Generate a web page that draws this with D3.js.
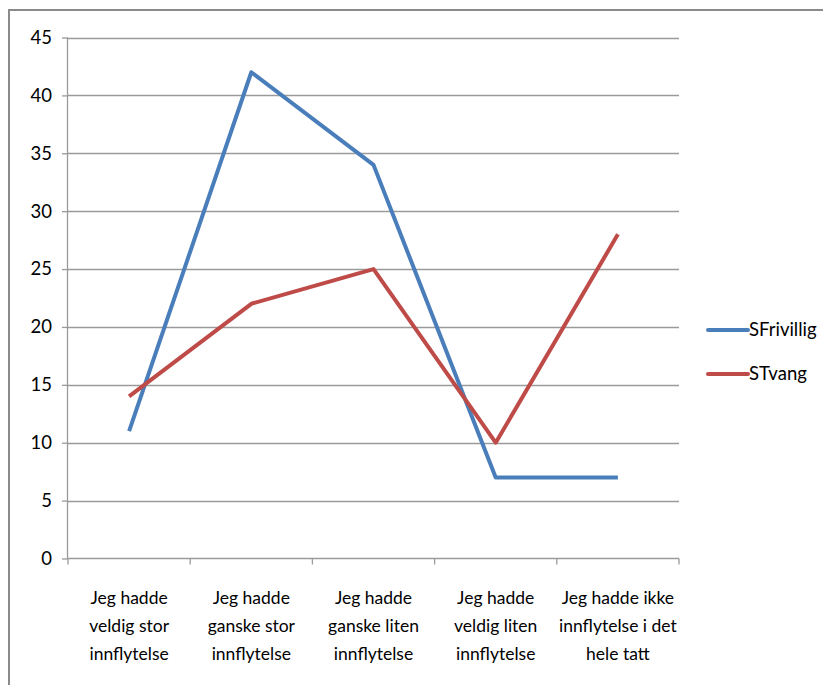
<!DOCTYPE html>
<html>
<head>
<meta charset="utf-8">
<script src="https://cdn.jsdelivr.net/npm/d3@7"></script>
<style>
  html, body { margin: 0; padding: 0; background: #fff; }
  svg { display: block; }
  text { font-family: Lato, "Open Sans", sans-serif; fill: #000; }
</style>
</head>
<body>
<svg id="chart" width="823" height="685"></svg>
<script>
const categories = [
  ["Jeg hadde", "veldig stor", "innflytelse"],
  ["Jeg hadde", "ganske stor", "innflytelse"],
  ["Jeg hadde", "ganske liten", "innflytelse"],
  ["Jeg hadde", "veldig liten", "innflytelse"],
  ["Jeg hadde ikke", "innflytelse i det", "hele tatt"]
];
const seriesNames = ["SFrivillig", "STvang"];
const sFrivillig = [11, 42, 34, 7, 7];
const sTvang = [14, 22, 25, 10, 28];
const yTicks = [0, 5, 10, 15, 20, 25, 30, 35, 40, 45];
const colors = ["#4A7EBB", "#BE4B48"];

(function () {
const svg = d3.select("#chart");

// outer chart border
svg.append("path")
  .attr("d", "M9,685 L9,10 L823,10")
  .attr("fill", "none")
  .attr("stroke", "#8a8a8a")
  .attr("stroke-width", 2);

const pLeft = 68, pRight = 679, pTop = 37.5, pBottom = 558.5;
const idx = d3.range(categories.length);
const x = d3.scaleBand().domain(idx).range([pLeft, pRight]).padding(0);
const y = d3.scaleLinear().domain([0, 45]).range([pBottom, pTop]);

// gridlines
svg.append("g").selectAll("line").data(yTicks.filter(d => d > 0)).join("line")
  .attr("x1", pLeft).attr("x2", pRight)
  .attr("y1", d => Math.round(y(d)) + 0.5).attr("y2", d => Math.round(y(d)) + 0.5)
  .attr("stroke", "#9a9a9a").attr("stroke-width", 1.3);

// y axis
const yAxis = svg.append("g").attr("transform", `translate(${pLeft},0)`)
  .call(d3.axisLeft(y).tickValues(yTicks).tickSize(6).tickPadding(10).tickFormat(d3.format("d")));
yAxis.select(".domain").attr("stroke", "#9a9a9a").attr("stroke-width", 1.3)
  .attr("d", `M-0.5,${pTop}V${pBottom}`);
yAxis.selectAll(".tick line").attr("stroke", "#9a9a9a").attr("stroke-width", 1.3);
yAxis.selectAll(".tick text").attr("font-size", 18.5).attr("font-family", "Lato, 'Open Sans', sans-serif").attr("fill", "#111");

// x axis
const xAxis = svg.append("g").attr("transform", `translate(0,${pBottom})`);
xAxis.append("line").attr("x1", pLeft).attr("x2", pRight).attr("y1", 0).attr("y2", 0)
  .attr("stroke", "#9a9a9a").attr("stroke-width", 1.3);
const tickXs = idx.map(i => x(i)).concat([x(idx[idx.length - 1]) + x.bandwidth()]);
xAxis.selectAll("line.tk").data(tickXs).join("line").attr("class", "tk")
  .attr("x1", d => d).attr("x2", d => d).attr("y1", 0).attr("y2", 6)
  .attr("stroke", "#9a9a9a").attr("stroke-width", 1.3);
const labels = xAxis.selectAll("text.cl").data(categories).join("text").attr("class", "cl")
  .attr("text-anchor", "middle").attr("font-size", 17.5).attr("fill", "#111")
  .attr("transform", (d, i) => `translate(${x(i) + x.bandwidth() / 2},0)`);
labels.selectAll("tspan").data(d => d).join("tspan")
  .attr("x", 0).attr("y", (d, j) => 45 + j * 28).text(d => d);

// lines
const line = d3.line().x((d, i) => x(i) + x.bandwidth() / 2).y(d => y(d));
[sFrivillig, sTvang].forEach((s, k) => {
  svg.append("path").datum(s)
    .attr("d", line)
    .attr("fill", "none")
    .attr("stroke", colors[k])
    .attr("stroke-width", 4)
    .attr("stroke-linejoin", "round")
    .attr("stroke-linecap", "butt");
});

// legend
const legend = svg.append("g");
seriesNames.forEach((n, k) => {
  const ly = 330 + k * 44;
  legend.append("line").attr("x1", 708).attr("x2", 748).attr("y1", ly).attr("y2", ly)
    .attr("stroke", colors[k]).attr("stroke-width", 4).attr("stroke-linecap", "round");
  legend.append("text").attr("x", 749).attr("y", ly).attr("dy", "0.35em")
    .attr("font-size", 18.5).attr("fill", "#111").text(n);
});
})();
</script>
</body>
</html>
